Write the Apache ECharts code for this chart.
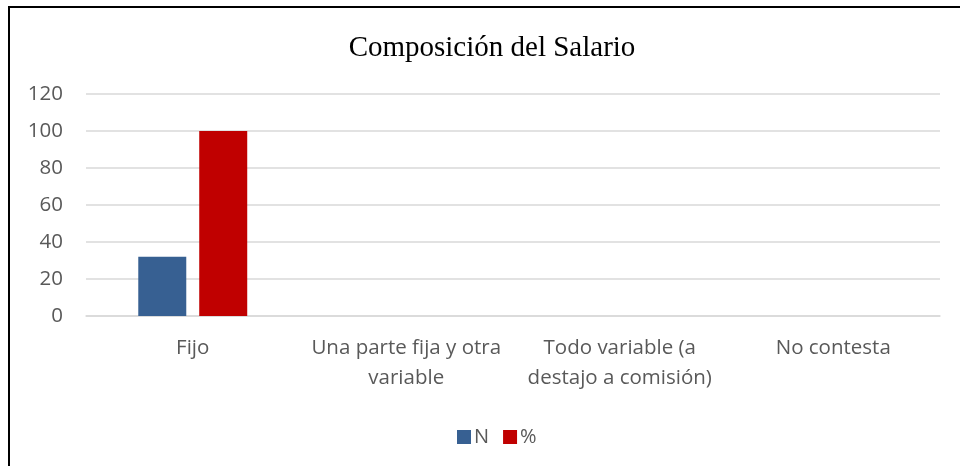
<!DOCTYPE html>
<html>
<head>
<meta charset="utf-8">
<script src="https://cdn.jsdelivr.net/npm/echarts@6/dist/echarts.min.js"></script>
<style>
  html, body { margin: 0; padding: 0; background: #fff; overflow: hidden; }
  #chart { width: 960px; height: 466px; }
  .frame {
    position: absolute; left: 8px; top: 6px; width: 1000px; height: 1000px;
    border-left: 2px solid #000; border-top: 2px solid #000; pointer-events: none;
  }
</style>
</head>
<body>
<div id="chart"></div>
<div class="frame"></div>
<script>
const categories = ['Fijo', 'Una parte fija y otra\nvariable', 'Todo variable (a\ndestajo a comisión)', 'No contesta']
const seriesN = [32, 0, 0, 0]
const seriesPct = [100, 0, 0, 0]
const yTicks = { min: 0, max: 120, interval: 20 }

const chart = echarts.init(document.getElementById('chart'))
const labelFont = '"Open Sans", "Noto Sans", sans-serif'

chart.setOption({
  animation: false,
  title: {
    text: 'Composición del Salario',
    left: 487,
    top: 29,
    textAlign: 'center',
    textStyle: {
      fontFamily: '"Liberation Serif", "Times New Roman", serif',
      fontSize: 29,
      fontWeight: 'normal',
      color: '#000',
    },
  },
  legend: {
    left: 452,
    top: 422,
    itemWidth: 14,
    itemHeight: 14,
    itemGap: 14,
    icon: 'rect',
    textStyle: { fontFamily: labelFont, fontSize: 20, color: '#595959', padding: [0, 0, 0, -2] },
    data: ['N', '%'],
  },
  grid: { left: 86, right: 20, top: 94, bottom: 150, containLabel: false },
  xAxis: {
    type: 'category',
    data: categories,
    axisTick: { show: false },
    axisLine: { lineStyle: { color: '#d9d9d9', width: 1.5 } },
    axisLabel: {
      interval: 0,
      margin: 17,
      fontFamily: labelFont,
      fontSize: 20.5,
      lineHeight: 30,
      color: '#595959',
    },
  },
  yAxis: {
    type: 'value',
    min: yTicks.min,
    max: yTicks.max,
    interval: yTicks.interval,
    axisLine: { show: false },
    axisTick: { show: false },
    splitLine: { lineStyle: { color: '#d9d9d9', width: 1.5 } },
    axisLabel: {
      margin: 23,
      fontFamily: labelFont,
      fontSize: 20.5,
      color: '#595959',
    },
  },
  series: [
    {
      name: 'N',
      type: 'bar',
      data: seriesN,
      barWidth: 48,
      barGap: '27%',
      itemStyle: { color: '#376092' },
    },
    {
      name: '%',
      type: 'bar',
      data: seriesPct,
      barWidth: 48,
      itemStyle: { color: '#c00000' },
    },
  ],
})
</script>
</body>
</html>
